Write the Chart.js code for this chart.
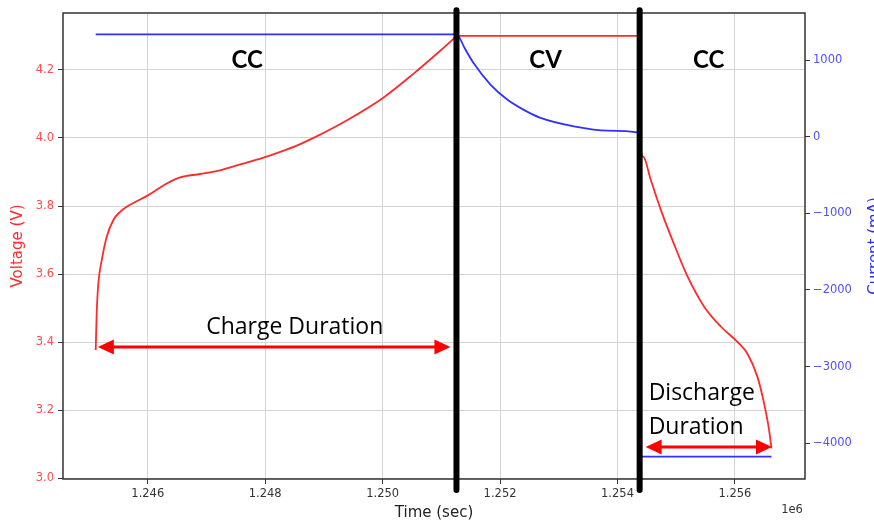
<!DOCTYPE html>
<html>
<head>
<meta charset="utf-8">
<script src="https://cdn.jsdelivr.net/npm/chart.js@4"></script>
<style>
  html, body { margin: 0; padding: 0; background: #fff; }
  #wrap { width: 874px; height: 522px; position: relative; }
</style>
</head>
<body>
<div id="wrap"><canvas id="chart1"></canvas></div>
<script>
// Datos
const voltTime = [1245113, 1245130, 1245158, 1245216, 1245301, 1245414, 1245528, 1245642,
  1246010, 1246324, 1246551, 1246892, 1247233, 1247574, 1247971, 1248256, 1248597, 1248823,
  1249393, 1250017, 1250528, 1250927, 1251210, 1251257, 1254377, 1254400, 1254440, 1254564,
  1254735, 1254962, 1255190, 1255473, 1255758, 1256042, 1256213, 1256383, 1256496, 1256581, 1256622];
const voltage = [3.377, 3.485, 3.573, 3.641, 3.710, 3.759, 3.783, 3.798,
  3.832, 3.866, 3.884, 3.894, 3.905, 3.922, 3.942, 3.959, 3.982, 4.000,
  4.052, 4.119, 4.189, 4.248, 4.292, 4.300, 4.300, 3.960, 3.945, 3.878,
  3.790, 3.688, 3.594, 3.505, 3.446, 3.401, 3.366, 3.298, 3.220, 3.142, 3.088];

const currTime = [1245113, 1251257, 1251400, 1251551, 1251836, 1252121, 1252404, 1252689,
  1253256, 1253826, 1254365, 1254390, 1256622];
const current = [1335, 1335, 1150, 958, 680, 485, 350, 245, 135, 80, 52, -4175, -4175];

// Cambios de etapa (lineas negras)
const stepTimes = [1251257, 1254377];

// Ticks
const timeTicks = [1246000, 1248000, 1250000, 1252000, 1254000, 1256000];
const voltTicks = [3.0, 3.2, 3.4, 3.6, 3.8, 4.0, 4.2];
const currTicks = [-4000, -3000, -2000, -1000, 0, 1000];

// Etiquetas de etapas
const phaseLabels = ['CC', 'CV', 'CC'];
const phaseTimes = [1247693, 1252774, 1255553];

const ROJO = '#ff2a2a';
const AZUL = '#3030ff';
const ROJO_TICK = '#ff4a4a';
const AZUL_TICK = '#4f4fff';

function toPoints(xs, ys) {
    return xs.map((x, i) => ({ x: x, y: ys[i] }));
}

// Flecha de doble punta
function flecha(ctx, x1, x2, y) {
    const largo = 16, alto = 7.5;
    ctx.save();
    ctx.strokeStyle = 'red';
    ctx.fillStyle = 'red';
    ctx.lineWidth = 3;
    ctx.beginPath();
    ctx.moveTo(x1 + largo - 2, y);
    ctx.lineTo(x2 - largo + 2, y);
    ctx.stroke();
    ctx.beginPath();
    ctx.moveTo(x1, y);
    ctx.lineTo(x1 + largo, y - alto);
    ctx.lineTo(x1 + largo, y + alto);
    ctx.closePath();
    ctx.fill();
    ctx.beginPath();
    ctx.moveTo(x2, y);
    ctx.lineTo(x2 - largo, y - alto);
    ctx.lineTo(x2 - largo, y + alto);
    ctx.closePath();
    ctx.fill();
    ctx.restore();
}

const marco = {
    id: 'marco',
    beforeDatasetsDraw(chart) {
        const { ctx, chartArea: a } = chart;
        ctx.save();
        ctx.strokeStyle = '#333';
        ctx.lineWidth = 1.5;
        ctx.strokeRect(a.left, a.top, a.right - a.left, a.bottom - a.top);
        ctx.restore();
    }
};

const anotaciones = {
    id: 'anotaciones',
    afterDatasetsDraw(chart) {
        const { ctx, chartArea: a } = chart;
        const sx = chart.scales.x, sy = chart.scales.y;
        ctx.save();

        // CC / CV / CC
        ctx.fillStyle = '#000';
        ctx.font = 'bold 24px Lato';
        ctx.textAlign = 'center';
        ctx.textBaseline = 'alphabetic';
        phaseLabels.forEach((t, i) => {
            ctx.fillText(t, sx.getPixelForValue(phaseTimes[i]), sy.getPixelForValue(4.206));
        });

        // Flechas de duracion
        flecha(ctx, sx.getPixelForValue(1245150), sx.getPixelForValue(1251154), sy.getPixelForValue(3.386));
        flecha(ctx, sx.getPixelForValue(1254479), sx.getPixelForValue(1256630), sy.getPixelForValue(3.092));

        ctx.font = '23px "Open Sans"';
        ctx.fillStyle = '#000';
        ctx.textAlign = 'center';
        ctx.fillText('Charge Duration', sx.getPixelForValue(1248503), sy.getPixelForValue(3.423));
        ctx.textAlign = 'left';
        ctx.fillText('Discharge', sx.getPixelForValue(1254530), sy.getPixelForValue(3.230));
        ctx.fillText('Duration', sx.getPixelForValue(1254530), sy.getPixelForValue(3.130));

        // 1e6
        ctx.font = '11.5px "DejaVu Sans"';
        ctx.fillStyle = '#333';
        ctx.textAlign = 'center';
        ctx.textBaseline = 'middle';
        ctx.fillText('1e6', a.right - 13, a.bottom + 31);

        // Titulo eje derecho (de abajo hacia arriba)
        ctx.translate(879, (a.top + a.bottom) / 2);
        ctx.rotate(-Math.PI / 2);
        ctx.font = '15px "DejaVu Sans"';
        ctx.fillStyle = AZUL;
        ctx.textAlign = 'center';
        ctx.textBaseline = 'alphabetic';
        ctx.fillText('Current (mA)', 0, 0);
        ctx.restore();
    }
};

function ticksFijos(valores) {
    return function (scale) {
        scale.ticks = valores.map(v => ({ value: v }));
    };
}

Chart.defaults.font.family = '"DejaVu Sans"';

const datasets = [];
stepTimes.forEach(t => {
    datasets.push({
        data: [{ x: t, y: 2.966 }, { x: t, y: 4.375 }],
        yAxisID: 'y',
        borderColor: '#000',
        borderWidth: 6,
        borderCapStyle: 'round',
        clip: false,
        pointRadius: 0,
        showLine: true
    });
});
datasets.push({
    label: 'Voltage',
    data: toPoints(voltTime, voltage),
    yAxisID: 'y',
    borderColor: ROJO,
    borderWidth: 1.8,
    pointRadius: 0,
    showLine: true,
    cubicInterpolationMode: 'monotone'
});
datasets.push({
    label: 'Current',
    data: toPoints(currTime, current),
    yAxisID: 'y1',
    borderColor: AZUL,
    borderWidth: 1.8,
    pointRadius: 0,
    showLine: true,
    cubicInterpolationMode: 'monotone'
});

new Chart(document.getElementById('chart1'), {
    type: 'scatter',
    data: { datasets: datasets },
    plugins: [marco, anotaciones],
    options: {
        responsive: true,
        maintainAspectRatio: false,
        animation: false,
        layout: { padding: { top: 13, left: 0, right: 0, bottom: 0 } },
        plugins: {
            legend: { display: false },
            tooltip: { enabled: false }
        },
        scales: {
            x: {
                type: 'linear',
                min: 1244556,
                max: 1257193,
                afterBuildTicks: ticksFijos(timeTicks),
                afterFit(scale) { scale.height = 43; },
                ticks: {
                    color: '#333',
                    font: { size: 11.5 },
                    padding: 3,
                    maxRotation: 0,
                    callback: v => (v / 1e6).toFixed(3)
                },
                grid: { color: '#d4d4d4', lineWidth: 1, tickColor: '#333', tickLength: 5 },
                border: { display: false },
                title: {
                    display: true,
                    text: 'Time (sec)',
                    color: '#222',
                    font: { size: 15 },
                    padding: { top: 0, bottom: 0 }
                }
            },
            y: {
                type: 'linear',
                position: 'left',
                min: 2.998,
                max: 4.367,
                afterBuildTicks: ticksFijos(voltTicks),
                afterFit(scale) { scale.width = 63; },
                ticks: {
                    color: ROJO_TICK,
                    font: { size: 11.5 },
                    padding: 4,
                    callback: v => v.toFixed(1)
                },
                grid: { color: '#d4d4d4', lineWidth: 1, tickColor: '#333', tickLength: 5 },
                border: { display: false },
                title: {
                    display: true,
                    text: 'Voltage (V)',
                    color: ROJO,
                    font: { size: 15 },
                    padding: { top: 9, bottom: 0 }
                }
            },
            y1: {
                type: 'linear',
                position: 'right',
                min: -4466,
                max: 1614,
                afterBuildTicks: ticksFijos(currTicks),
                afterFit(scale) { scale.width = 69; },
                ticks: {
                    color: AZUL_TICK,
                    font: { size: 11.5 },
                    padding: 3,
                    callback: v => String(v).replace('-', '\u2212')
                },
                grid: { drawOnChartArea: false, tickColor: '#333', tickLength: 5 },
                border: { display: false }
            }
        }
    }
});
</script>
</body>
</html>
